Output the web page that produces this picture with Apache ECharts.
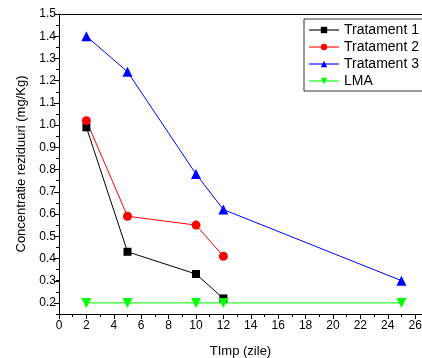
<!DOCTYPE html>
<html>
<head>
<meta charset="utf-8">
<script src="https://cdn.jsdelivr.net/npm/echarts@6/dist/echarts.min.js"></script>
<style>html,body{margin:0;padding:0;background:#fff}#c{width:422px;height:358px}</style>
</head>
<body>
<div id="c"></div>
<script>
var days1 = [2, 5, 10, 12];
var trat1 = [0.99, 0.43, 0.33, 0.22];
var days2 = [2, 5, 10, 12];
var trat2 = [1.02, 0.59, 0.55, 0.41];
var days3 = [2, 5, 10, 12, 25];
var trat3 = [1.40, 1.24, 0.78, 0.62, 0.30];
var daysL = [2, 5, 10, 12, 25];
var lma = [0.2, 0.2, 0.2, 0.2, 0.2];
var names = ['Tratament 1', 'Tratament 2', 'Tratament 3', 'LMA'];

function pairs(xs, ys) { return xs.map(function (x, i) { return [x, ys[i]]; }); }

var FONT = '"Liberation Sans", Arial, sans-serif';
var chart = echarts.init(document.getElementById('c'), null, {renderer: 'canvas'});
chart.setOption({
  animation: false,
  textStyle: {fontFamily: FONT},
  grid: [
    {left: 59, top: 14, right: 0, bottom: 44, containLabel: false, outerBoundsMode: 'none'},
    {left: 59, top: 14, right: 0, height: 289, containLabel: false, outerBoundsMode: 'none'}
  ],
  legend: {
    orient: 'vertical', left: 304, top: 19,
    padding: [4, 4, 3, 4], itemGap: 3, itemWidth: 30, itemHeight: 8,
    borderColor: '#333', borderWidth: 1, backgroundColor: '#fff',
    lineStyle: {opacity: 0.55},
    textStyle: {fontSize: 14, color: '#000', fontFamily: FONT},
    data: names
  },
  xAxis: [
    {
      type: 'value', gridIndex: 0, min: 0, max: 26.5, interval: 2,
      name: 'TImp (zile)', nameLocation: 'middle', nameGap: 31,
      nameTextStyle: {fontSize: 13, color: '#000', fontFamily: FONT},
      axisLine: {show: true, lineStyle: {color: '#000', width: 1}},
      axisTick: {show: true, length: 5, inside: false, lineStyle: {color: '#000'}},
      minorTick: {show: true, splitNumber: 2, length: 3, lineStyle: {color: '#000'}},
      axisLabel: {fontSize: 12, color: '#000', margin: 6, showMaxLabel: false, fontFamily: FONT},
      splitLine: {show: false}
    },
    {
      type: 'value', gridIndex: 0, position: 'top', min: 0, max: 26.5,
      axisLine: {show: true, lineStyle: {color: '#000', width: 1}},
      axisTick: {show: false}, axisLabel: {show: false}, splitLine: {show: false}
    },
    {
      type: 'value', gridIndex: 1, min: 0, max: 26.5, show: false
    }
  ],
  yAxis: [
    {
      type: 'value', gridIndex: 0, min: 0.15, max: 1.5, interval: 0.05,
      name: 'Concentratie reziduuri (mg/Kg)', nameLocation: 'middle', nameGap: 31,
      nameTextStyle: {fontSize: 13, color: '#000', fontFamily: FONT},
      axisLine: {show: true, lineStyle: {color: '#000', width: 1}},
      axisTick: {show: true, length: 3, inside: false, lineStyle: {color: '#000'}},
      axisLabel: {show: false},
      splitLine: {show: false}
    },
    {
      type: 'value', gridIndex: 1, min: 0.2, max: 1.5, interval: 0.1,
      axisLine: {show: false},
      axisTick: {show: true, length: 5, inside: false, lineStyle: {color: '#000'}},
      axisLabel: {fontSize: 12, color: '#000', margin: 3, fontFamily: FONT,
        formatter: function (v) { return v.toFixed(1); }},
      splitLine: {show: false}
    }
  ],
  series: [
    {name: names[0], type: 'line', xAxisIndex: 0, yAxisIndex: 0, data: pairs(days1, trat1),
      symbol: 'rect', symbolSize: 8, color: '#000000', lineStyle: {width: 1, color: '#000'},
      itemStyle: {color: '#000'}},
    {name: names[1], type: 'line', xAxisIndex: 0, yAxisIndex: 0, data: pairs(days2, trat2),
      symbol: 'circle', symbolSize: 9, color: '#ff0000', lineStyle: {width: 1, color: '#ff0000'},
      itemStyle: {color: '#ff0000'}},
    {name: names[2], type: 'line', xAxisIndex: 0, yAxisIndex: 0, data: pairs(days3, trat3),
      symbol: 'triangle', symbolSize: 10, color: '#0000ff', lineStyle: {width: 1, color: '#0000ff'},
      itemStyle: {color: '#0000ff'}},
    {name: names[3], type: 'line', xAxisIndex: 0, yAxisIndex: 0, data: pairs(daysL, lma),
      symbol: 'triangle', symbolRotate: 180, symbolSize: 10, color: '#00ff00',
      lineStyle: {width: 1, color: '#00ff00'}, itemStyle: {color: '#00ff00'}}
  ]
});
</script>
</body>
</html>
